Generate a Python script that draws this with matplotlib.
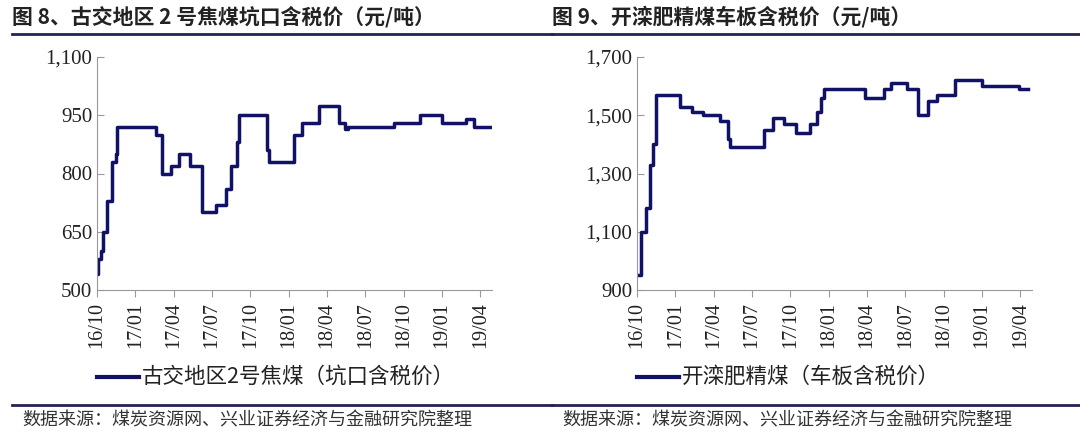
import matplotlib
matplotlib.use("Agg")
import matplotlib.pyplot as plt
from matplotlib.lines import Line2D

plt.rcParams['font.family'] = ['Noto Sans CJK SC', 'DejaVu Sans']

tick_labels = ["16/10","17/01","17/04","17/07","17/10","18/01","18/04","18/07","18/10","19/01","19/04"]
# month offset from 2016-10, value (step, post)
left_x = [0,0.1,0.3,0.5,0.8,1.2,1.5,1.6,4.6,5.1,5.8,6.4,7.3,8.2,9.3,10.1,10.5,10.95,11.1,13.3,13.45,15.4,16.0,17.4,18.9,19.4,19.6,23.2,25.3,27.0,28.9,29.5,31.0]
left_y = [540,580,600,650,730,830,850,920,900,800,820,850,820,700,720,760,820,880,950,860,830,900,930,975,930,915,920,930,950,930,940,920,920]
right_x = [0,0.3,0.7,1.0,1.25,1.5,3.4,4.3,5.2,6.5,7.1,7.25,9.9,10.6,11.5,12.4,13.5,14.1,14.4,14.6,17.8,19.3,19.9,21.1,22.0,22.8,23.5,24.9,27.0,29.9,30.6]
right_y = [950,1100,1180,1330,1400,1570,1530,1510,1500,1480,1420,1390,1450,1490,1470,1440,1470,1510,1560,1590,1560,1590,1610,1590,1500,1550,1570,1620,1600,1590,1590]

navy = '#111166'
W, H = 1080, 437
fig = plt.figure(figsize=(W/100, H/100), dpi=100)

def panel(x0, x1, xs, ys, ylim, yticks, ylabels, title, legend):
    ax = fig.add_axes([x0/W, (H-290)/H, (x1-x0)/W, 233/H])
    ax.step(xs, ys, where='post', color=navy, lw=2.5)
    ax.set_xlim(0, 30.9)
    ax.set_ylim(*ylim)
    ax.set_xticks(range(0, 31, 3))
    ax.set_xticklabels(tick_labels, rotation=90, family='Liberation Serif', fontsize=14.5)
    ax.set_yticks(yticks)
    ax.set_yticklabels(ylabels, family='Liberation Serif', fontsize=15)
    for s in ['top', 'right']:
        ax.spines[s].set_visible(False)
    for s in ['left', 'bottom']:
        ax.spines[s].set_color('#999999')
    ax.tick_params(colors='#999999', labelcolor='#222222', length=5, direction='in')
    ax.tick_params(axis='x', direction='out')
    fig.text((x0-85)/W, 1-17/H, title, fontsize=15, fontweight='bold', va='center', color='#222222')
    fig.add_artist(Line2D([(x0-85)/W, (x0+455)/W], [1-34/H]*2, color='#222255', lw=2))
    fig.add_artist(Line2D([(x0-85)/W, (x0+455)/W], [1-405/H]*2, color='#222255', lw=2))
    fig.add_artist(Line2D([(x0+0)/W, (x0+42)/W], [1-377/H]*2, color=navy, lw=3))
    fig.text((x0+45)/W, 1-377/H, legend, fontsize=15.5, va='center', color='#222222')
    fig.text((x0-75)/W, 1-420/H, "数据来源：煤炭资源网、兴业证券经济与金融研究院整理", fontsize=13, va='center', color='#333333')

panel(97, 492, left_x, left_y, (500, 1100), [500,650,800,950,1100],
      ["500","650","800","950","1,100"], "图 8、古交地区 2 号焦煤坑口含税价（元/吨）", "古交地区2号焦煤（坑口含税价）")
panel(637, 1032, right_x, right_y, (900, 1700), [900,1100,1300,1500,1700],
      ["900","1,100","1,300","1,500","1,700"], "图 9、开滦肥精煤车板含税价（元/吨）", "开滦肥精煤（车板含税价）")
fig.savefig("out.png", dpi=100)
